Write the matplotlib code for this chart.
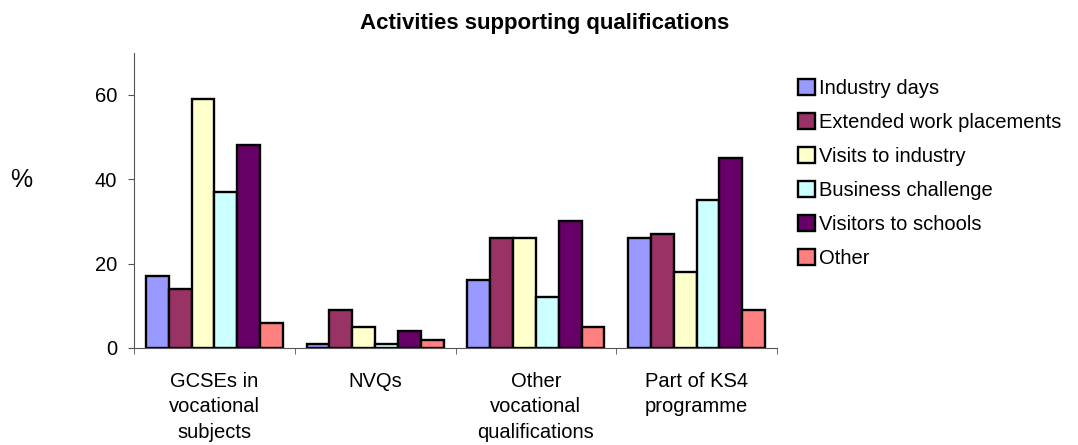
import numpy as np
import matplotlib
matplotlib.use("Agg")
import matplotlib.pyplot as plt
from matplotlib.patches import Patch

plt.rcParams['font.family'] = ['Liberation Sans', 'DejaVu Sans']

# data
categories = ["GCSEs in\nvocational\nsubjects", "NVQs", "Other\nvocational\nqualifications", "Part of KS4\nprogramme"]
series = ["Industry days", "Extended work placements", "Visits to industry",
          "Business challenge", "Visitors to schools", "Other"]
industry_days = [17, 1, 16, 26]
extended_work = [14, 9, 26, 27]
visits_industry = [59, 5, 26, 18]
business_challenge = [37, 1, 12, 35]
visitors_schools = [48, 4, 30, 45]
other = [6, 2, 5, 9]
values = [industry_days, extended_work, visits_industry, business_challenge, visitors_schools, other]
colors = ["#9999FF", "#993366", "#FFFFCC", "#CCFFFF", "#660066", "#FF8080"]

fs = 14.5

fig = plt.figure(figsize=(10.78, 4.45), dpi=100)
ax = fig.add_axes([0.1243, 0.218, 0.7208 - 0.1243, 0.8818 - 0.218])

x = np.arange(len(categories))
n = len(series)
group = 0.852
w = group / n
for i, (vals, c) in enumerate(zip(values, colors)):
    ax.bar(x - group / 2 + w * (i + 0.5), vals, width=w, color=c,
           edgecolor="black", linewidth=1.7, label=series[i])

ax.set_xlim(-0.5, len(categories) - 0.5)
ax.set_ylim(0, 70)
ax.set_yticks([0, 20, 40, 60])
ax.set_xticks(x)
ax.set_xticklabels(categories, fontsize=fs, linespacing=1.45)
ax.set_xticks(np.arange(len(categories) + 1) - 0.5, minor=True)
ax.tick_params(axis="x", which="major", length=0, pad=17)
ax.tick_params(axis="x", which="minor", length=4.3, color="#555555")
ax.tick_params(axis="y", labelsize=fs, length=4.3, pad=8, color="#555555")
for s in ["top", "right"]:
    ax.spines[s].set_visible(False)
for s in ["left", "bottom"]:
    ax.spines[s].set_color("#555555")

fig.text(0.5056, 0.948, "Activities supporting qualifications", ha="center", va="center",
         fontsize=16, fontweight="bold")
fig.text(0.020, 0.595, "%", ha="center", va="center", fontsize=18)

handles = [Patch(facecolor=c, edgecolor="black", linewidth=1.7) for c in colors]
fig.legend(handles, series, loc="upper left", bbox_to_anchor=(0.740, 0.822),
           frameon=False, fontsize=fs, handlelength=0.85, handleheight=0.85,
           handletextpad=0.2, labelspacing=0.74, borderpad=0, borderaxespad=0)

fig.savefig("out.png", dpi=100)
